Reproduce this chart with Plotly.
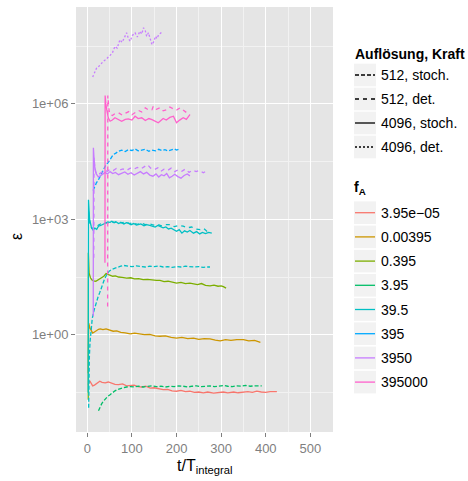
import plotly.graph_objects as go

# ---------------- data (t / T_integral, log10 of epsilon) ----------------
fa_levels = ["3.95e\u221205", "0.00395", "0.395", "3.95", "39.5", "395", "3950", "395000"]
fa_colors = ["#F8766D", "#CD9600", "#7CAE00", "#00BE67", "#00BFC4", "#00A9FF", "#C77CFF", "#FF61CC"]
lt_levels = ["512, stoch.", "512, det.", "4096, stoch.", "4096, det."]
lt_dash = ["4px,2px", "4px,4px", "solid", "2px,2px"]

x_ticks = [0, 100, 200, 300, 400, 500]
y_tick_vals = [1e0, 1e3, 1e6]
y_tick_text = ["1e+00", "1e+03", "1e+06"]

# fA = 3.95e-05, 4096 stoch.
t_red = [2, 4, 6, 9, 12, 16, 20, 24, 28, 33, 40, 47, 55, 62, 70, 79, 88, 96, 105, 113,
         122, 131, 141, 150, 160, 170, 180, 190, 200, 210, 220, 230, 240, 250, 260, 270, 283, 293, 305, 315,
         328, 338, 350, 360, 370, 380, 390, 400, 410, 418, 425]
L_red = [-1.30, -1.22, -1.21, -1.28, -1.33, -1.31, -1.27, -1.23, -1.21, -1.24, -1.25, -1.23, -1.27, -1.29, -1.30, -1.28, -1.33, -1.32, -1.31, -1.35,
         -1.36, -1.34, -1.39, -1.38, -1.41, -1.43, -1.42, -1.46, -1.47, -1.45, -1.48, -1.47, -1.50, -1.49, -1.51, -1.49, -1.52, -1.50, -1.49, -1.51,
         -1.49, -1.51, -1.50, -1.48, -1.50, -1.47, -1.49, -1.50, -1.48, -1.49, -1.48]

# fA = 0.00395, 4096 stoch.
t_gold = [2, 3, 6, 9, 12, 16, 20, 25, 29, 35, 42, 50, 58, 66, 75, 85, 96, 106, 118, 128,
          140, 152, 163, 175, 188, 200, 212, 225, 238, 250, 262, 275, 287, 298, 310, 322, 335, 350, 362, 375, 388]
L_gold = [-1.0, 0.30, 0.17, 0.08, 0.04, 0.07, 0.11, 0.14, 0.15, 0.13, 0.15, 0.11, 0.09, 0.10, 0.06, 0.05, 0.02, 0.04, 0.02, 0.00,
          0.01, -0.03, -0.04, -0.03, -0.07, -0.09, -0.07, -0.10, -0.09, -0.12, -0.10, -0.11, -0.14, -0.16, -0.13, -0.15, -0.13, -0.13, -0.16, -0.15, -0.20]

# fA = 0.395, 4096 stoch.
t_olive = [2.0, 2.3, 4, 7, 10, 14, 19, 25, 31, 37, 42, 47, 52, 57, 63, 70, 78, 88, 97, 106,
           115, 125, 135, 145, 155, 163, 172, 181, 190, 200, 210, 220, 230, 238, 247, 256, 265, 275, 284, 293, 300, 305, 311]
L_olive = [-1.69, 2.13, 1.60, 1.48, 1.43, 1.40, 1.39, 1.43, 1.47, 1.52, 1.59, 1.57, 1.54, 1.52, 1.53, 1.50, 1.49, 1.47, 1.48, 1.45,
           1.46, 1.43, 1.44, 1.42, 1.41, 1.41, 1.38, 1.39, 1.36, 1.34, 1.36, 1.33, 1.34, 1.32, 1.30, 1.33, 1.28, 1.27, 1.29, 1.26, 1.27, 1.25, 1.21]

# fA = 3.95, 512 stoch.
t_green = [25, 28, 32, 36, 41, 46, 51, 57, 62, 67, 73, 80, 88, 96, 105, 115, 125, 135, 145, 155,
           165, 175, 185, 195, 205, 215, 225, 235, 245, 255, 265, 275, 285, 295, 305, 315, 325, 335, 345, 355, 365, 375, 385, 391]
L_green = [-1.98, -1.88, -1.80, -1.73, -1.65, -1.60, -1.56, -1.50, -1.46, -1.43, -1.40, -1.38, -1.36, -1.35, -1.36, -1.34, -1.36, -1.35, -1.33, -1.35,
           -1.34, -1.36, -1.34, -1.35, -1.33, -1.34, -1.36, -1.34, -1.33, -1.35, -1.34, -1.33, -1.35, -1.34, -1.32, -1.34, -1.35, -1.33, -1.34, -1.32,
           -1.34, -1.33, -1.34, -1.33]

# fA = 39.5, 512 stoch.
t_cyan_lo = [3, 3.5, 4.5, 6, 8, 11, 15, 20, 24, 28, 33, 38, 43, 49, 55, 61, 68, 75, 82, 90,
             100, 110, 120, 130, 140, 150, 160, 170, 180, 190, 200, 210, 220, 230, 240, 250, 260, 268, 275]
L_cyan_lo = [-1.90, -1.2, -0.6, -0.2, 0.15, 0.42, 0.63, 0.85, 0.98, 1.10, 1.28, 1.43, 1.55, 1.65, 1.70, 1.73, 1.76, 1.78, 1.80, 1.78,
             1.77, 1.79, 1.78, 1.76, 1.78, 1.77, 1.79, 1.76, 1.77, 1.75, 1.77, 1.76, 1.78, 1.77, 1.76, 1.77, 1.75, 1.76, 1.76]

# fA = 39.5, 4096 stoch.
t_cyan_s = [2.0, 2.5, 5, 9, 13, 17, 21, 25, 30, 35, 40, 46, 51, 55, 60, 65, 70, 76, 82, 88,
            92, 98, 104, 110, 114, 120, 127, 133, 140, 145, 152, 158, 163, 170, 176, 182, 188, 194, 200, 206,
            212, 218, 224, 230, 238, 245, 252, 258, 265, 272, 279]
L_cyan_s = [-1.5, 3.51, 3.0, 2.80, 2.72, 2.77, 2.74, 2.82, 2.84, 2.87, 2.90, 2.93, 2.92, 2.95, 2.91, 2.93, 2.89, 2.92, 2.88, 2.91,
            2.90, 2.86, 2.89, 2.85, 2.86, 2.88, 2.83, 2.86, 2.84, 2.83, 2.80, 2.84, 2.82, 2.78, 2.80, 2.75, 2.77, 2.72, 2.69, 2.73,
            2.64, 2.70, 2.67, 2.71, 2.64, 2.68, 2.62, 2.66, 2.63, 2.66, 2.64]

# fA = 39.5, 512 det.
t_cyan_d = [3, 6, 10, 15, 20, 26, 32, 38, 45, 52, 60, 68, 76, 85, 94, 103, 112, 121, 130, 139,
            148, 157, 166, 175, 186, 195, 205, 215, 224, 234, 243, 253, 261, 268, 272]
L_cyan_d = [3.2, 2.85, 2.76, 2.78, 2.80, 2.86, 2.88, 2.92, 2.90, 2.94, 2.92, 2.95, 2.91, 2.93, 2.89, 2.91, 2.87, 2.90, 2.86, 2.88,
            2.85, 2.87, 2.83, 2.86, 2.86, 2.81, 2.84, 2.82, 2.78, 2.80, 2.75, 2.73, 2.76, 2.69, 2.72]

# fA = 395, 512 stoch.
t_blue = [13, 16, 20, 25, 30, 36, 41, 47, 52, 58, 64, 70, 77, 85, 92, 100, 107, 114, 122, 130,
          138, 145, 153, 160, 167, 174, 181, 188, 195, 200, 205, 208]
L_blue = [3.75, 3.85, 3.94, 4.03, 4.15, 4.29, 4.40, 4.48, 4.58, 4.68, 4.72, 4.77, 4.80, 4.76, 4.81, 4.79, 4.83, 4.78, 4.80, 4.82,
          4.77, 4.80, 4.78, 4.82, 4.79, 4.81, 4.78, 4.80, 4.83, 4.80, 4.82, 4.81]

# fA = 3950, 4096 stoch.
t_pm_s = [13.3, 13.6, 16, 20, 25, 30, 35, 40, 45, 51, 57, 63, 70, 77, 84, 91, 98, 105, 112, 119,
          126, 133, 140, 147, 154, 160, 166, 172, 178, 184, 190, 196, 203, 210, 217, 224, 230]
L_pm_s = [0.48, 4.86, 4.40, 4.18, 4.10, 4.14, 4.16, 4.22, 4.18, 4.24, 4.19, 4.22, 4.16, 4.20, 4.23, 4.17, 4.21, 4.15, 4.19, 4.24,
          4.18, 4.22, 4.15, 4.12, 4.18, 4.10, 4.16, 4.13, 4.19, 4.08, 4.12, 4.17, 4.11, 4.07, 4.14, 4.18, 4.13]

# fA = 3950, 512 det.
t_pm_d = [14.5, 15.0, 18, 22, 27, 33, 39, 45, 51, 58, 65, 72, 80, 88, 96, 104, 112, 120, 128, 135,
          142, 150, 158, 165, 172, 180, 188, 196, 204, 212, 220, 228, 236, 244, 252, 260, 266, 272]
L_pm_d = [2.0, 4.6, 4.25, 4.15, 4.18, 4.22, 4.27, 4.25, 4.30, 4.27, 4.32, 4.28, 4.31, 4.27, 4.33, 4.30, 4.35, 4.31, 4.38, 4.42,
          4.33, 4.29, 4.34, 4.25, 4.30, 4.27, 4.33, 4.24, 4.29, 4.25, 4.31, 4.22, 4.28, 4.24, 4.27, 4.21, 4.25, 4.23]

# fA = 3950, 4096 det.
t_pt = [12, 16, 21, 26, 31, 36, 41, 46, 51, 56, 62, 67, 73, 78, 83, 88, 92, 96, 101, 107,
        112, 118, 122, 126, 130, 133, 137, 141, 145, 149, 153, 156, 160, 164, 167]
L_pt = [6.70, 6.82, 6.94, 6.98, 7.06, 7.11, 7.15, 7.21, 7.28, 7.32, 7.50, 7.45, 7.67, 7.60, 7.72, 7.85, 7.70, 7.63, 7.78, 7.85,
        7.74, 7.89, 7.82, 7.98, 7.90, 7.76, 7.85, 7.68, 7.54, 7.62, 7.76, 7.70, 7.80, 7.84, 7.87]

# fA = 395000, 4096 stoch.
t_pk_s = [39.5, 39.9, 41.5, 43.5, 47, 51, 56, 62, 68, 77, 85, 92, 100, 107, 114, 122, 130, 138, 145, 152,
          159, 163, 170, 177, 185, 193, 200, 207, 215, 222, 230]
L_pk_s = [1.87, 6.22, 6.00, 5.85, 5.64, 5.55, 5.58, 5.64, 5.60, 5.55, 5.60, 5.61, 5.58, 5.68, 5.62, 5.64, 5.57, 5.62, 5.59, 5.55,
          5.51, 5.55, 5.62, 5.58, 5.65, 5.68, 5.51, 5.58, 5.64, 5.60, 5.72]

# fA = 395000, 512 det.
t_pk_d = [45.5, 45.9, 47.5, 49, 51, 56, 62, 70, 78, 86, 93, 100, 108, 115, 122, 130, 137, 145, 148, 155,
          163, 170, 178, 185, 193, 200, 208, 215, 223, 230]
L_pk_d = [0.73, 6.22, 6.00, 5.82, 5.72, 5.70, 5.75, 5.77, 5.71, 5.76, 5.80, 5.72, 5.78, 5.83, 5.79, 5.90, 5.84, 5.85, 5.94, 5.86,
          5.90, 5.82, 5.85, 5.92, 5.87, 5.84, 5.90, 5.83, 5.77, 5.72]

# (fA index, linetype index, t, log10 eps) in drawing order
series = [
    (0, 2, t_red, L_red),
    (1, 2, t_gold, L_gold),
    (2, 2, t_olive, L_olive),
    (3, 0, t_green, L_green),
    (4, 0, t_cyan_lo, L_cyan_lo),
    (4, 1, t_cyan_d, L_cyan_d),
    (4, 2, t_cyan_s, L_cyan_s),
    (5, 0, t_blue, L_blue),
    (6, 1, t_pm_d, L_pm_d),
    (6, 2, t_pm_s, L_pm_s),
    (6, 3, t_pt, L_pt),
    (7, 1, t_pk_d, L_pk_d),
    (7, 2, t_pk_s, L_pk_s),
]

# ---------------- figure ----------------
W, H = 468, 481
ML, MR, MT, MB = 76, 135, 7, 49
PW, PH = W - ML - MR, H - MT - MB
FONT = "Liberation Sans, Arial, Helvetica, sans-serif"


def px(x):
    return (x - ML) / PW


def py(y):
    return (H - MB - y) / PH


fig = go.Figure()
for fi, li, t, L in series:
    assert len(t) == len(L)
    fig.add_trace(go.Scatter(
        x=t, y=[10 ** v for v in L], mode="lines",
        line=dict(color=fa_colors[fi], width=1.3, dash=lt_dash[li]),
        showlegend=False, hoverinfo="skip"))

fig.update_xaxes(
    range=[-25.4, 550.8], tickvals=x_ticks, ticktext=[str(v) for v in x_ticks],
    showgrid=True, gridcolor="white", gridwidth=1.1, zeroline=False, showline=False,
    ticks="outside", ticklen=4, tickwidth=1, tickcolor="#7F7F7F",
    tickfont=dict(family=FONT, size=13, color="#7F7F7F"),
    minor=dict(tickvals=[50, 150, 250, 350, 450], showgrid=True, gridcolor="#F2F2F2", gridwidth=0.6, ticks=""),
)
fig.update_yaxes(
    type="log", range=[-2.53, 8.52], tickvals=y_tick_vals, ticktext=y_tick_text,
    showgrid=True, gridcolor="white", gridwidth=1.1, zeroline=False, showline=False,
    ticks="outside", ticklen=4, tickwidth=1, tickcolor="#7F7F7F",
    tickfont=dict(family=FONT, size=13, color="#7F7F7F"),
    minor=dict(tickvals=[10 ** -1.5, 10 ** 1.5, 10 ** 4.5, 10 ** 7.5], showgrid=True,
               gridcolor="#F2F2F2", gridwidth=0.6, ticks=""),
)

shapes = []
annotations = []

# axis titles
annotations.append(dict(x=px(204.3), y=py(467), xref="paper", yref="paper", text="t/T<sub>integral</sub>",
                        showarrow=False, xanchor="center", yanchor="middle",
                        font=dict(family=FONT, size=16, color="black")))
annotations.append(dict(x=px(16), y=py(237), xref="paper", yref="paper", text="\u03b5",
                        showarrow=False, xanchor="center", yanchor="middle", textangle=-90,
                        font=dict(family=FONT, size=16, color="black")))

# legend 1: linetype
annotations.append(dict(x=px(353), y=py(54), xref="paper", yref="paper", text="<b>Aufl\u00f6sung, Kraft</b>",
                        showarrow=False, xanchor="left", yanchor="middle",
                        font=dict(family=FONT, size=14, color="black")))
lt_rows = [75, 99, 123, 147]
for i, lab in enumerate(lt_levels):
    yc = lt_rows[i]
    shapes.append(dict(type="rect", xref="paper", yref="paper", x0=px(354), x1=px(376),
                       y0=py(yc + 11.3), y1=py(yc - 11.3), fillcolor="#F2F2F2", line=dict(width=0), layer="above"))
    shapes.append(dict(type="line", xref="paper", yref="paper", x0=px(355), x1=px(375),
                       y0=py(yc), y1=py(yc), line=dict(color="black", width=1.3, dash=lt_dash[i]), layer="above"))
    annotations.append(dict(x=px(378.5), y=py(yc), xref="paper", yref="paper", text=lab,
                            showarrow=False, xanchor="left", yanchor="middle",
                            font=dict(family=FONT, size=14, color="black")))

# legend 2: fA colours
annotations.append(dict(x=px(352.3), y=py(188.5), xref="paper", yref="paper", text="<b>f<sub>A</sub></b>",
                        showarrow=False, xanchor="left", yanchor="middle",
                        font=dict(family=FONT, size=14, color="black")))
fa_row0, fa_step = 212.7, 24.2
for i, lab in enumerate(fa_levels):
    yc = fa_row0 + i * fa_step
    shapes.append(dict(type="rect", xref="paper", yref="paper", x0=px(354), x1=px(376),
                       y0=py(yc + 11.3), y1=py(yc - 11.3), fillcolor="#F2F2F2", line=dict(width=0), layer="above"))
    shapes.append(dict(type="line", xref="paper", yref="paper", x0=px(355), x1=px(375),
                       y0=py(yc), y1=py(yc), line=dict(color=fa_colors[i], width=1.3), layer="above"))
    annotations.append(dict(x=px(379.3), y=py(yc), xref="paper", yref="paper", text=lab,
                            showarrow=False, xanchor="left", yanchor="middle",
                            font=dict(family=FONT, size=14, color="black")))

fig.update_layout(
    width=W, height=H, autosize=False,
    margin=dict(l=ML, r=MR, t=MT, b=MB, pad=0),
    paper_bgcolor="white", plot_bgcolor="#E5E5E5",
    showlegend=False, shapes=shapes, annotations=annotations,
    font=dict(family=FONT),
)

fig.write_html("out.html")
